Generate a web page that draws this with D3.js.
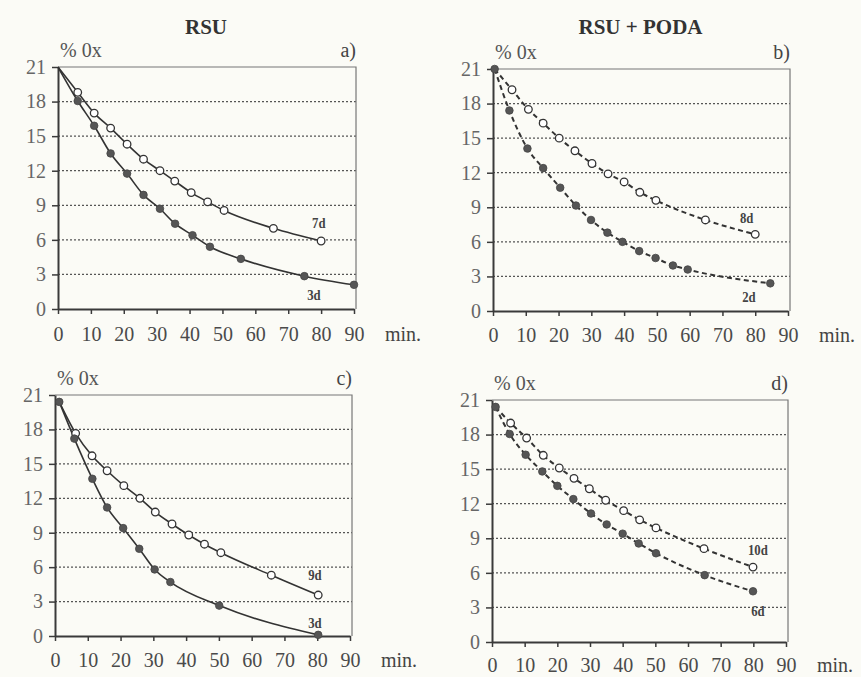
<!DOCTYPE html>
<html>
<head>
<meta charset="utf-8">
<script src="https://cdn.jsdelivr.net/npm/d3@7"></script>
<style>
  html, body { margin: 0; padding: 0; background: #fbfbf6; }
  svg { display: block; }
  svg text { font-family: "Liberation Serif", "Times New Roman", "DejaVu Serif", serif !important; }
</style>
</head>
<body>
<svg id="chart" width="861" height="677" font-family="Liberation Serif"></svg>
<script>
// axis ticks
const xTicks = [0, 10, 20, 30, 40, 50, 60, 70, 80, 90];
const yTicks = [0, 3, 6, 9, 12, 15, 18, 21];

// panel a) RSU
const a7Time = [0, 6, 11, 16, 21, 26, 31, 35.5, 40.5, 45.5, 50.5, 65.5, 80];
const a7Ox = [21, 18.8, 17.0, 15.7, 14.3, 13.0, 12.0, 11.1, 10.1, 9.3, 8.55, 7.0, 5.9];
const a3Time = [0, 6, 11, 16, 21, 26, 31, 35.6, 40.9, 46.2, 55.6, 74.9, 90];
const a3Ox = [21, 18.05, 15.9, 13.5, 11.75, 9.9, 8.7, 7.4, 6.4, 5.4, 4.35, 2.85, 2.1];

// panel b) RSU + PODA
const b8Time = [0.5, 5.8, 10.8, 15.3, 20.2, 25, 30.2, 35.1, 40, 44.8, 49.7, 64.8, 80];
const b8Ox = [21, 19.2, 17.5, 16.3, 15.0, 13.9, 12.8, 11.9, 11.2, 10.3, 9.6, 7.9, 6.65];
const b2Time = [0.5, 5, 10.5, 15.3, 20.5, 25.3, 29.9, 34.9, 39.5, 44.6, 49.6, 54.9, 59.4, 84.6];
const b2Ox = [21, 17.4, 14.1, 12.4, 10.7, 9.15, 7.9, 6.8, 6.0, 5.2, 4.6, 3.95, 3.6, 2.4];

// panel c) RSU
const c9Time = [1.3, 6.3, 11.3, 15.9, 21, 25.9, 30.6, 35.7, 40.8, 45.6, 50.6, 66, 80.3];
const c9Ox = [20.4, 17.66, 15.7, 14.4, 13.1, 12.0, 10.8, 9.76, 8.8, 8.0, 7.26, 5.3, 3.57];
const c3Time = [1.3, 5.9, 11.4, 15.9, 20.8, 25.7, 30.4, 35.2, 50.1, 80.3];
const c3Ox = [20.4, 17.2, 13.7, 11.2, 9.4, 7.6, 5.8, 4.7, 2.65, 0.1];

// panel d) RSU + PODA
const d10Time = [1.1, 5.7, 10.6, 15.7, 20.6, 25.1, 29.8, 34.8, 40.3, 45.2, 50.2, 64.9, 79.9];
const d10Ox = [20.4, 19.0, 17.7, 16.2, 15.1, 14.2, 13.3, 12.3, 11.4, 10.6, 9.9, 8.1, 6.5];
const d6Time = [1.1, 5.4, 10.3, 15.4, 20.0, 24.9, 30.3, 35.1, 40.0, 44.9, 50.2, 65.1, 79.9];
const d6Ox = [20.4, 18.05, 16.25, 14.8, 13.55, 12.4, 11.15, 10.2, 9.4, 8.55, 7.7, 5.8, 4.4];

// series labels (text, time, %Ox)
const aLabels = [["7d", 79.3, 7.0], ["3d", 77.8, 0.8]];
const bLabels = [["8d", 77.4, 7.6], ["2d", 78.1, 0.8]];
const cLabels = [["9d", 79.3, 4.9], ["3d", 79.3, 0.7]];
const dLabels = [["10d", 81.4, 7.55], ["6d", 81.4, 2.26]];

const zip = (t, v) => t.map((d, i) => ({ t: d, v: v[i] }));

const panels = [
  { tag: "a)", title: "RSU", left: 58, right: 354, top: 67, bottom: 309, pad: 13, dashed: false, startDot: false,
    open: zip(a7Time, a7Ox), filled: zip(a3Time, a3Ox), labels: aLabels },
  { tag: "b)", title: "RSU + PODA", left: 493, right: 788, top: 69, bottom: 311, pad: 12, dashed: true, startDot: true,
    open: zip(b8Time, b8Ox), filled: zip(b2Time, b2Ox), labels: bLabels },
  { tag: "c)", left: 55, right: 350, top: 395, bottom: 636, pad: 12, dashed: false, startDot: true,
    open: zip(c9Time, c9Ox), filled: zip(c3Time, c3Ox), labels: cLabels },
  { tag: "d)", left: 492, right: 786, top: 400, bottom: 642, pad: 11, dashed: true, startDot: true,
    open: zip(d10Time, d10Ox), filled: zip(d6Time, d6Ox), labels: dLabels },
];

const svg = d3.select("#chart");
const ink = "#3a3a3a";
const serif = "Liberation Serif";

panels.forEach((p) => {
  const x = d3.scaleLinear().domain([0, 90]).range([p.left, p.right]);
  const y = d3.scaleLinear().domain([0, 21]).range([p.bottom, p.top]);
  const g = svg.append("g").attr("font-family", serif);

  // title above top panels
  if (p.title) {
    g.append("text")
      .attr("x", (p.left + p.right) / 2)
      .attr("y", 34)
      .attr("text-anchor", "middle")
      .attr("font-size", "21px")
      .attr("font-weight", "bold")
      .attr("fill", "#333")
      .text(p.title);
  }

  // y label and panel tag
  g.append("text")
    .attr("x", p.left + 2)
    .attr("y", p.top - 10)
    .attr("font-size", "20px")
    .attr("fill", "#555")
    .text("% 0x");
  g.append("text")
    .attr("x", p.right + 2)
    .attr("y", p.top - 10)
    .attr("text-anchor", "end")
    .attr("font-size", "20px")
    .attr("fill", "#444")
    .text(p.tag);

  // dotted grid
  g.append("g")
    .selectAll("line")
    .data(yTicks.filter((d) => d > 0 && d < 21))
    .enter()
    .append("line")
    .attr("x1", x(0))
    .attr("x2", x(90) + 2)
    .attr("y1", (d) => y(d))
    .attr("y2", (d) => y(d))
    .attr("stroke", "#555")
    .attr("stroke-width", 1.3)
    .attr("stroke-dasharray", "2,2");

  // frame top and right
  g.append("path")
    .attr("d", `M${x(0)},${y(21)}H${x(90) + 2}V${y(0)}`)
    .attr("fill", "none")
    .attr("stroke", "#777")
    .attr("stroke-width", 1.2);

  // axes
  const yAxis = g.append("g")
    .attr("transform", `translate(${x(0)},0)`)
    .call(d3.axisLeft(y).tickValues(yTicks).tickSizeInner(6).tickSizeOuter(0).tickPadding(6));
  const xAxis = g.append("g")
    .attr("transform", `translate(0,${y(0)})`)
    .call(d3.axisBottom(x).tickValues(xTicks).tickSizeInner(5).tickSizeOuter(0).tickPadding(p.pad));

  [yAxis, xAxis].forEach((ax) => {
    ax.attr("font-family", serif).attr("font-size", 20);
    ax.select(".domain").attr("stroke", ink).attr("stroke-width", 2);
    ax.selectAll("line").attr("stroke", ink).attr("stroke-width", 1.5);
    ax.selectAll("text").attr("fill", "#4a4a4a");
  });
  yAxis.selectAll("text").attr("fill", "#666");

  g.append("text")
    .attr("x", x(90) + 31)
    .attr("y", y(0) + 5 + p.pad + 14.2)
    .attr("font-size", "20px")
    .attr("fill", "#444")
    .text("min.");

  // curves
  const line = d3.line()
    .x((d) => x(d.t))
    .y((d) => y(d.v))
    .curve(d3.curveMonotoneX);

  [p.open, p.filled].forEach((s) => {
    g.append("path")
      .datum(s)
      .attr("d", line)
      .attr("fill", "none")
      .attr("stroke", "#333")
      .attr("stroke-width", p.dashed ? 2 : 1.6)
      .attr("stroke-dasharray", p.dashed ? "5,3.5" : null);
  });

  // markers (skip the shared start point)
  g.append("g")
    .selectAll("circle")
    .data(p.open.slice(1))
    .enter()
    .append("circle")
    .attr("cx", (d) => x(d.t))
    .attr("cy", (d) => y(d.v))
    .attr("r", 3.8)
    .attr("fill", "#fff")
    .attr("stroke", "#333")
    .attr("stroke-width", 1.3);

  g.append("g")
    .selectAll("circle")
    .data(p.startDot ? p.filled : p.filled.slice(1))
    .enter()
    .append("circle")
    .attr("cx", (d) => x(d.t))
    .attr("cy", (d) => y(d.v))
    .attr("r", 3.8)
    .attr("fill", "#555")
    .attr("stroke", "#444")
    .attr("stroke-width", 0.8);

  // series labels
  g.append("g")
    .selectAll("text")
    .data(p.labels)
    .enter()
    .append("text")
    .attr("x", (d) => x(d[1]))
    .attr("y", (d) => y(d[2]))
    .attr("text-anchor", "middle")
    .attr("font-size", "15px")
    .attr("font-weight", "bold")
    .attr("fill", "#444")
    .attr("transform", (d) => `translate(${x(d[1])},0) scale(0.85,1) translate(${-x(d[1])},0)`)
    .text((d) => d[0]);
});
</script>
</body>
</html>
